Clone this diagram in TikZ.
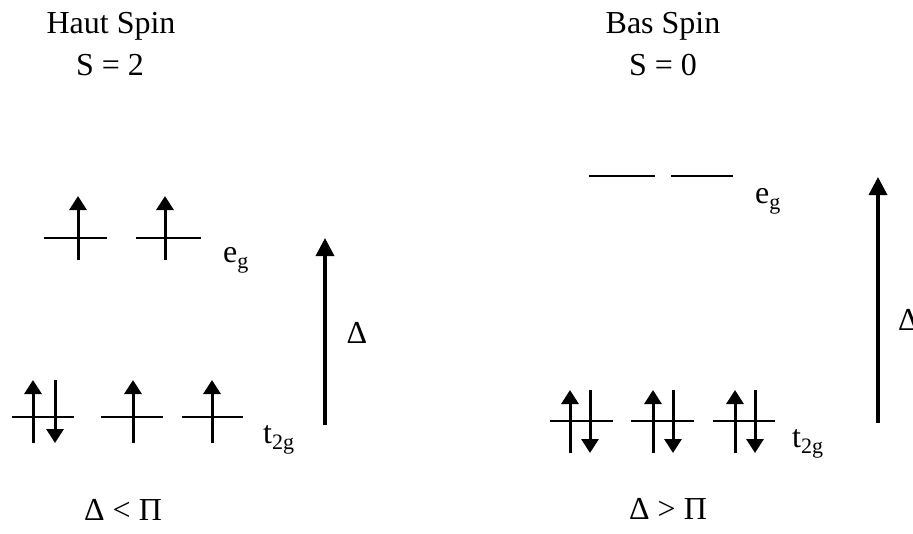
\documentclass[tikz,border=0pt]{standalone}
\usepackage{fontspec}
\setmainfont{Liberation Serif}
\usetikzlibrary{arrows.meta}
\newcommand{\subx}[1]{\raisebox{-6pt}{\fontsize{22}{22}\selectfont #1}}
\begin{document}
\begin{tikzpicture}[x=1pt,y=-1pt,
  lbl/.style={inner sep=0pt, anchor=base, font=\fontsize{32}{38}\selectfont},
  level/.style={line width=1.3pt},
  spin/.style={line width=3pt, -{Triangle[width=17pt,length=14pt]}},
  gaparrow/.style={line width=3.5pt, -{Triangle[width=18pt,length=18pt]}}]
\useasboundingbox (0,0) rectangle (913,533);
% titles
\node[lbl] (hs) at (111,33) {Haut Spin};
\node[lbl] (s2) at (110,75) {S = 2};
\node[lbl] (bs) at (663,33) {Bas Spin};
\node[lbl] (s0) at (663,75) {S = 0};
\node[lbl] (cl) at (123,520) {Δ < Π};
\node[lbl] (cr) at (668,519) {Δ > Π};
% level labels
\node[lbl, anchor=base west] (egl) at (223,262) {e\subx{g}};
\node[lbl, anchor=base west] (tl) at (263,443) {t\subx{2g}};
\node[lbl, anchor=base west] (egr) at (755,203) {e\subx{g}};
\node[lbl, anchor=base west] (tr) at (792,447) {t\subx{2g}};
\node[lbl] (dl) at (357,343) {Δ};
\node[lbl, anchor=base west] (dr) at (898,330) {Δ};
% levels, left
\draw[level] (44,238) -- (107,238);
\draw[level] (136,238) -- (201,238);
\draw[level] (12,417) -- (74,417);
\draw[level] (101,417) -- (163,417);
\draw[level] (182,417) -- (243,417);
% levels, right
\draw[level] (589,176) -- (655,176);
\draw[level] (671,176) -- (733,176);
\draw[level] (550,421) -- (613,421);
\draw[level] (631,421) -- (694,421);
\draw[level] (713,421) -- (775,421);
% spins, left
\foreach \x in {78,165} \draw[spin] (\x,260) -- (\x,196);
\foreach \x in {33,133,212} \draw[spin] (\x,443) -- (\x,380);
\draw[spin] (55,380) -- (55,443);
% spins, right
\foreach \x in {570,653,735} \draw[spin] (\x,453) -- (\x,390);
\foreach \x in {590,673,755} \draw[spin] (\x,390) -- (\x,453);
% gap arrows
\coordinate (dlb) at (325,425);
\coordinate (dlt) at (325,238);
\coordinate (drb) at (878,423);
\coordinate (drt) at (878,177);
\draw[gaparrow] (dlb) -- (dlt);
\draw[gaparrow] (drb) -- (drt);
\end{tikzpicture}
\end{document}
